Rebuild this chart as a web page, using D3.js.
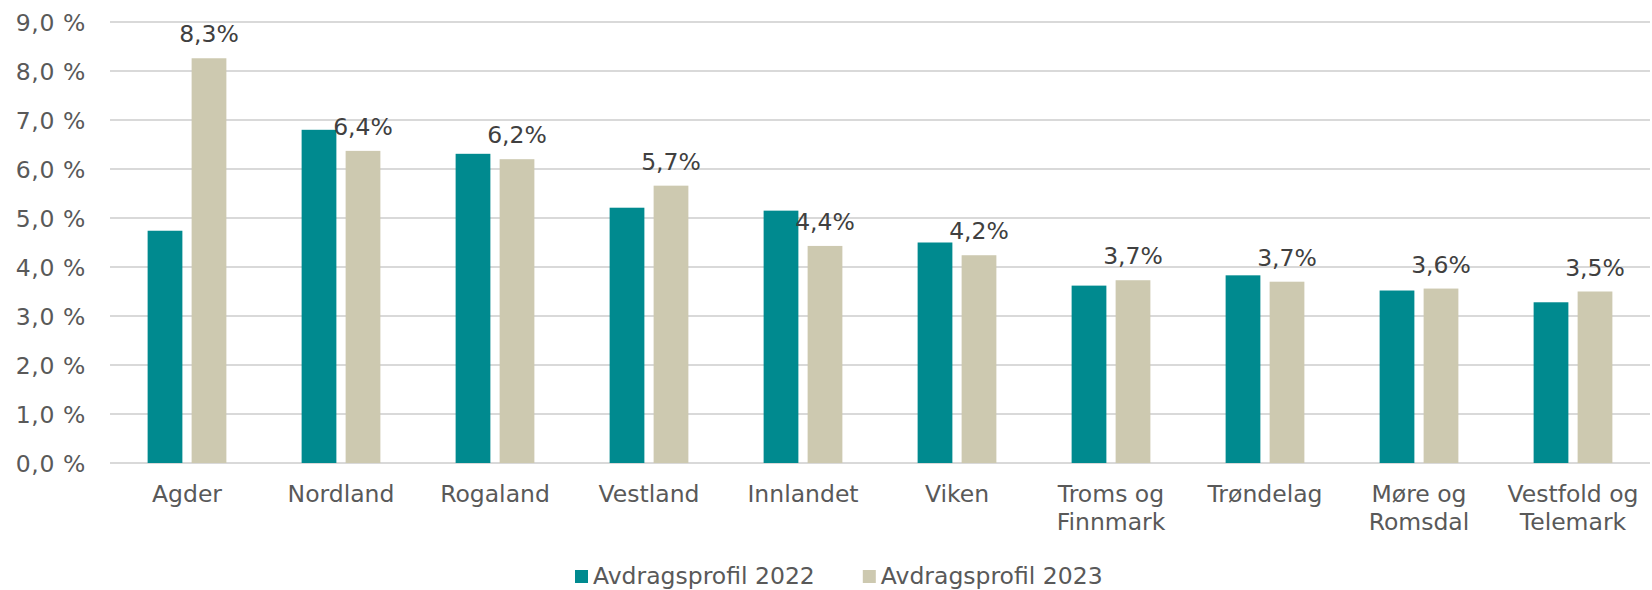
<!DOCTYPE html>
<meta charset="utf-8">
<style>
body { margin: 0; background: #fff; font-family: "DejaVu Sans", Verdana, sans-serif; }
.grid line { stroke: #d9d9d9; stroke-width: 1.5; shape-rendering: crispEdges; }
.tick-label { font-size: 23.5px; fill: #595959; letter-spacing: 0.6px; }
.cat-label { font-size: 23.5px; fill: #595959; }
.value-label { font-size: 23.5px; fill: #404040; }
.legend text { font-size: 23.5px; fill: #595959; }
</style>
<body>
<script src="https://cdn.jsdelivr.net/npm/d3@7"></script>
<script>

// Categories (counties), with line breaks as in the original
var regions = ["Agder", "Nordland", "Rogaland", "Vestland", "Innlandet", "Viken",
               "Troms og\nFinnmark", "Trøndelag", "Møre og\nRomsdal", "Vestfold og\nTelemark"];

var seriesNames = ["Avdragsprofil 2022", "Avdragsprofil 2023"];

// values in percent
var values2022 = [4.74, 6.80, 6.31, 5.21, 5.15, 4.50, 3.62, 3.83, 3.52, 3.28];
var values2023 = [8.26, 6.37, 6.20, 5.66, 4.43, 4.24, 3.73, 3.70, 3.56, 3.50];

var yTicks = [0, 1, 2, 3, 4, 5, 6, 7, 8, 9];

var colors = ["#008a8f", "#cdc9b0"];

var W = 1652, H = 590;
var margin = {top: 22, right: 2, bottom: 127, left: 110};
var width = W - margin.left - margin.right,
    height = H - margin.top - margin.bottom;

var svg = d3.select("body").append("svg")
    .attr("width", W)
    .attr("height", H);

var g = svg.append("g")
    .attr("transform", "translate(" + margin.left + "," + margin.top + ")");

var x0 = d3.scaleBand().domain(regions).range([0, width]);
var x1 = d3.scaleBand().domain(seriesNames).range([0, x0.bandwidth()])
    .paddingInner(0.21).paddingOuter(0.855);
var y = d3.scaleLinear().domain([0, 9]).range([height, 0]);

// gridlines
g.append("g").attr("class", "grid")
  .selectAll("line")
    .data(yTicks)
  .enter().append("line")
    .attr("x1", 0).attr("x2", width)
    .attr("y1", function(d) { return y(d); })
    .attr("y2", function(d) { return y(d); });

// y tick labels
g.selectAll(".tick-label")
    .data(yTicks)
  .enter().append("text")
    .attr("class", "tick-label")
    .attr("text-anchor", "end")
    .attr("x", -24)
    .attr("y", function(d) { return y(d) + 8.5; })
    .text(function(d) { return d.toFixed(1).replace(".", ",") + " %"; });

var rows = regions.map(function(r, i) {
    return {region: r, vals: [values2022[i], values2023[i]]};
});

var groups = g.selectAll(".group")
    .data(rows)
  .enter().append("g")
    .attr("class", "group")
    .attr("transform", function(d) { return "translate(" + x0(d.region) + ",0)"; });

groups.selectAll("rect")
    .data(function(d) { return d.vals.map(function(v, i) { return {s: seriesNames[i], v: v, i: i}; }); })
  .enter().append("rect")
    .attr("x", function(d) { return x1(d.s); })
    .attr("width", x1.bandwidth())
    .attr("y", function(d) { return y(d.v); })
    .attr("height", function(d) { return height - y(d.v); })
    .attr("fill", function(d) { return colors[d.i]; });

// value labels only for 2023
groups.append("text")
    .attr("class", "value-label")
    .attr("text-anchor", "middle")
    .attr("x", x1(seriesNames[1]) + x1.bandwidth() / 2)
    .attr("y", function(d) { return y(d.vals[1]) - 16; })
    .text(function(d) { return d.vals[1].toFixed(1).replace(".", ",") + "%"; });

// category labels
groups.append("text")
    .attr("class", "cat-label")
    .attr("text-anchor", "middle")
    .attr("x", x0.bandwidth() / 2)
    .attr("y", height + 39)
    .selectAll("tspan")
    .data(function(d) { return d.region.split("\n"); })
  .enter().append("tspan")
    .attr("x", x0.bandwidth() / 2)
    .attr("dy", function(d, i) { return i ? 28 : 0; })
    .text(function(d) { return d; });

// legend
var legend = svg.append("g").attr("class", "legend")
    .attr("transform", "translate(575,584)");
var lx = 0;
seriesNames.forEach(function(name, i) {
    var item = legend.append("g").attr("transform", "translate(" + lx + ",0)");
    item.append("rect")
        .attr("x", 0).attr("y", -14)
        .attr("width", 13).attr("height", 13)
        .attr("fill", colors[i]);
    var t = item.append("text").attr("x", 18).attr("y", 0).text(name);
    lx += 18 + t.node().getComputedTextLength() + 48;
});

</script>
</body>
